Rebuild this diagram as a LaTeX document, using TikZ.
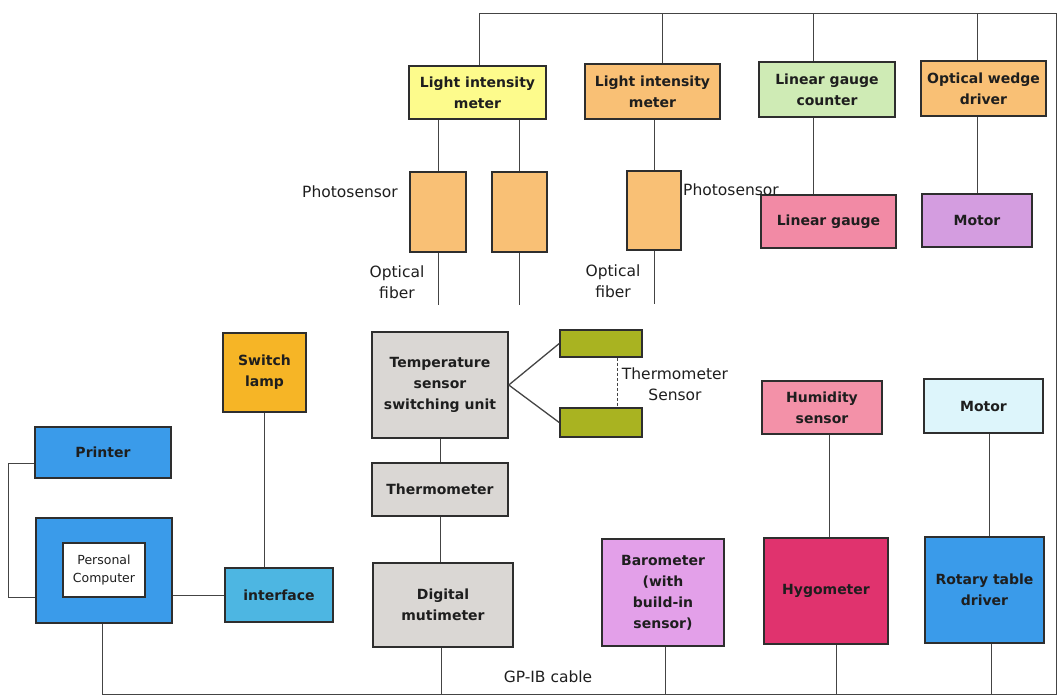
\documentclass[tikz,border=0pt]{standalone}
\usepackage{fontspec}
\setmainfont{DejaVu Sans}
\newcommand{\myboxfont}{\fontsize{14}{21}\selectfont\bfseries}
\newcommand{\mylblfont}{\fontsize{15.5}{21}\selectfont}
\definecolor{boxline}{HTML}{2E2E2E}
\definecolor{wirec}{HTML}{444444}
\definecolor{txt}{HTML}{1E1E1E}
\definecolor{cyel}{HTML}{FDFB8C}
\definecolor{corg}{HTML}{F9C075}
\definecolor{cgrn}{HTML}{CFEBB5}
\definecolor{cpnk}{HTML}{F28AA5}
\definecolor{cpur}{HTML}{D49DE0}
\definecolor{clmp}{HTML}{F6B526}
\definecolor{cblu}{HTML}{3A9BEA}
\definecolor{cifc}{HTML}{4DB6E2}
\definecolor{cgry}{HTML}{DAD7D4}
\definecolor{colv}{HTML}{A9B321}
\definecolor{cbar}{HTML}{E3A0E9}
\definecolor{chum}{HTML}{F391A8}
\definecolor{ccyn}{HTML}{DDF5FB}
\definecolor{chyg}{HTML}{E0336E}
\tikzset{
  box/.style={draw=boxline, line width=1.5pt, align=center, inner sep=0pt, font=\myboxfont, text=txt},
  lbl/.style={align=center, inner sep=0pt, font=\mylblfont, text=txt},
  wire/.style={draw=wirec, line width=1pt}
}
\begin{document}
\begin{tikzpicture}[x=1pt,y=-1pt]
\useasboundingbox (0,0) rectangle (1058,696);
% top row
\node[box, fill=cyel, minimum width=137, minimum height=53] (lim1) at (477.5,92.5) {Light intensity\\meter};
\node[box, fill=corg, minimum width=135, minimum height=55] (lim2) at (652.5,91.5) {Light intensity\\meter};
\node[box, fill=cgrn, minimum width=136, minimum height=55] (lgc) at (827,89.5) {Linear gauge\\counter};
\node[box, fill=corg, minimum width=125, minimum height=55] (owd) at (983.5,88.5) {Optical wedge\\driver};
\node[box, fill=corg, minimum width=56, minimum height=80] (ps1) at (438,212) {};
\node[box, fill=corg, minimum width=55, minimum height=80] (ps2) at (519.5,212) {};
\node[box, fill=corg, minimum width=54, minimum height=79] (ps3) at (654,210.5) {};
\node[box, fill=cpnk, minimum width=135, minimum height=53] (lg) at (828.5,221.5) {Linear gauge};
\node[box, fill=cpur, minimum width=110, minimum height=53] (mot1) at (977,220.5) {Motor};
% labels top
\node[lbl, anchor=east] (lps1) at (398,192) {Photosensor};
\node[lbl, anchor=west] (lps3) at (683,190) {Photosensor};
\node[lbl] (lof1) at (397,282) {Optical\\fiber};
\node[lbl] (lof3) at (613,281) {Optical\\fiber};
% lower left
\node[box, fill=clmp, minimum width=83, minimum height=79] (lamp) at (264.5,372.5) {Switch\\lamp};
\node[box, fill=cblu, minimum width=136, minimum height=51] (printer) at (103,452.5) {Printer};
\node[box, fill=cblu, minimum width=136, minimum height=105] (pc) at (104,570.5) {};
\node[draw=boxline, line width=1.5pt, fill=white, minimum width=82, minimum height=54, align=center, inner sep=0pt, font=\fontsize{12.5}{18}\selectfont, text=txt] (pcin) at (104,570) {Personal\\Computer};
\node[box, fill=cifc, minimum width=108, minimum height=54] (iface) at (279,595) {interface};
% middle
\node[box, fill=cgry, minimum width=136, minimum height=106] (tssu) at (440,385) {Temperature\\sensor\\switching unit};
\node[box, fill=colv, minimum width=82, minimum height=27] (tb1) at (601,343.5) {};
\node[box, fill=colv, minimum width=82, minimum height=29] (tb2) at (601,422.5) {};
\node[lbl] (lts) at (675,384) {Thermometer\\Sensor};
\node[box, fill=cgry, minimum width=136, minimum height=53] (thermo) at (440,489.5) {Thermometer};
\node[box, fill=cgry, minimum width=140, minimum height=84] (dmm) at (443,605) {Digital\\mutimeter};
\node[box, fill=cbar, minimum width=122, minimum height=107] (baro) at (663,592.5) {Barometer\\(with\\build-in\\sensor)};
\node[lbl] (lgp) at (548,677) {GP-IB cable};
% right
\node[box, fill=chum, minimum width=120, minimum height=53] (hum) at (822,407.5) {Humidity\\sensor};
\node[box, fill=ccyn, minimum width=119, minimum height=54] (mot2) at (983.5,406) {Motor};
\node[box, fill=chyg, minimum width=124, minimum height=106] (hyg) at (826,591) {Hygometer};
\node[box, fill=cblu, minimum width=119, minimum height=106] (rot) at (984.5,590) {Rotary table\\driver};
% bus
\coordinate (busTR) at (1056,13);
\coordinate (busBR) at (1056,694);
\draw[wire] ([xshift=1.5]lim1.north) -- ([xshift=1.5]lim1.north |- busTR) -- (busTR) -- (busBR) -- ([xshift=-2]pc.south |- busBR) -- ([xshift=-2]pc.south);
\draw[wire] ([xshift=9.5]lim2.north) -- ([xshift=9.5]lim2.north |- busTR);
\draw[wire] ([xshift=-14]lgc.north) -- ([xshift=-14]lgc.north |- busTR);
\draw[wire] (owd.north -| mot1.north) -- (mot1.north |- busTR);
% top connections
\draw[wire] (ps1.north) -- (ps1.north |- lim1.south);
\draw[wire] (ps2.north) -- (ps2.north |- lim1.south);
\draw[wire] (ps3.north) -- (ps3.north |- lim2.south);
\draw[wire] ([xshift=-15]lg.north) -- ([xshift=-15]lg.north |- lgc.south);
\draw[wire] (mot1.north) -- (mot1.north |- owd.south);
\coordinate (f1) at (438,305);
\coordinate (f2) at (519.5,305);
\coordinate (f3) at (654,304);
\draw[wire] (ps1.south) -- (f1);
\draw[wire] (ps2.south) -- (f2);
\draw[wire] (ps3.south) -- (f3);
% lower left connections
\coordinate (pl) at (8,463);
\draw[wire] ([yshift=-10.5]printer.west) -- (pl) |- ([yshift=-26.5]pc.west);
\draw[wire] (iface.west) -- (iface.west -| pc.east);
\draw[wire] (lamp.south) -- (lamp.south |- iface.north);
% middle connections
\draw[wire, line width=1.3pt] (tssu.east) -- (tb1.west);
\draw[wire, line width=1.3pt] (tssu.east) -- (tb2.west);
\draw[wire, dash pattern=on 3pt off 2pt] ([xshift=16]tb1.south) -- ([xshift=16]tb2.north);
\draw[wire] (tssu.south) -- (thermo.north);
\draw[wire] (thermo.south) -- (thermo.south |- dmm.north);
\draw[wire] ([xshift=-2]dmm.south) -- ([xshift=-2]dmm.south |- busBR);
\draw[wire] ([xshift=2]baro.south) -- ([xshift=2]baro.south |- busBR);
% right connections
\draw[wire] ([xshift=7]hum.south) -- ([xshift=7]hum.south |- hyg.north);
\draw[wire] ([xshift=5.5]mot2.south) -- ([xshift=5.5]mot2.south |- rot.north);
\draw[wire] ([xshift=10]hyg.south) -- ([xshift=10]hyg.south |- busBR);
\draw[wire] ([xshift=6.5]rot.south) -- ([xshift=6.5]rot.south |- busBR);
\end{tikzpicture}
\end{document}
